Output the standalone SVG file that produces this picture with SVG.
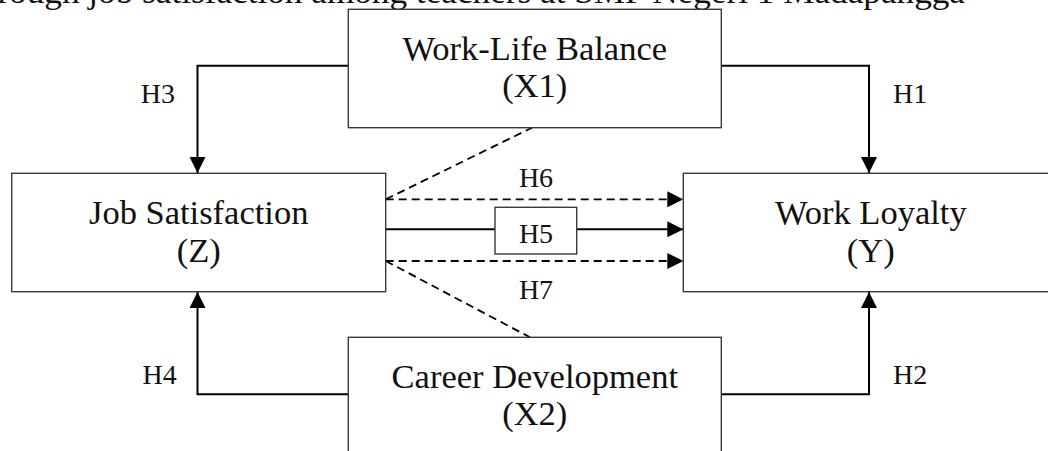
<svg xmlns="http://www.w3.org/2000/svg" width="1048" height="451" viewBox="0 0 1048 451">
<defs>
<style>
.box{fill:#fff;stroke:#3a3a3a;stroke-width:1.4}
.t{font-family:"Liberation Serif","DejaVu Serif",serif;font-size:34.5px;fill:#111;text-anchor:middle}
.h{font-family:"Liberation Serif","DejaVu Serif",serif;font-size:28px;fill:#111}
.c{fill:none;stroke:#000;stroke-width:2}
.d{fill:none;stroke:#000;stroke-width:1.8;stroke-dasharray:8,5}
</style>
<marker id="ah" viewBox="0 0 16 16" refX="16" refY="8" markerWidth="16" markerHeight="16" markerUnits="userSpaceOnUse" orient="auto">
<path d="M0,0 L16,8 L0,16 Z" fill="#000"/>
</marker>
</defs>
<rect width="1048" height="451" fill="#fff"/>
<text class="t" x="965" y="3" textLength="995" lengthAdjust="spacingAndGlyphs" style="text-anchor:end">through job satisfaction among teachers at SMP Negeri 1 Madapangga</text>
<g id="connectors">
<polyline class="c" points="348,65.7 197.5,65.7 197.5,173" marker-end="url(#ah)"/>
<polyline class="c" points="721,65.7 869,65.7 869,173" marker-end="url(#ah)"/>
<polyline class="c" points="348,394.3 197.5,394.3 197.5,292" marker-end="url(#ah)"/>
<polyline class="c" points="721,394.3 869,394.3 869,292" marker-end="url(#ah)"/>
<line class="d" x1="385.7" y1="199.3" x2="532" y2="127.7"/>
<line class="d" x1="385.7" y1="261" x2="530" y2="337.3"/>
<line class="d" x1="385.7" y1="199.3" x2="683.3" y2="199.3" marker-end="url(#ah)"/>
<line class="d" x1="385.7" y1="261" x2="683.3" y2="261" marker-end="url(#ah)"/>
<line class="c" x1="385.7" y1="229.3" x2="495" y2="229.3"/>
<line class="c" x1="576.7" y1="229.3" x2="683.3" y2="229.3" marker-end="url(#ah)"/>
<text class="h" x="140.7" y="102.7">H3</text>
<text class="h" x="893" y="102.7">H1</text>
<text class="h" x="176.7" y="384.3" style="text-anchor:end">H4</text>
<text class="h" x="893" y="384.3">H2</text>
<text class="h" x="536" y="187.3" style="text-anchor:middle">H6</text>
<text class="h" x="536" y="299.3" style="text-anchor:middle">H7</text>
</g>
<g id="h5">
<rect class="box" x="495" y="207.3" width="81.7" height="46.7"/>
<text class="h" x="536" y="243.3" style="text-anchor:middle">H5</text>
</g>
<g id="wlb">
<rect class="box" x="348.3" y="9.3" width="373" height="118.4"/>
<text class="t" x="534.8" y="60">Work-Life Balance</text>
<text class="t" x="534.8" y="97.3">(X1)</text>
</g>
<g id="js">
<rect class="box" x="11.7" y="173.3" width="374" height="118.4"/>
<text class="t" x="198.7" y="224.3">Job Satisfaction</text>
<text class="t" x="198.7" y="261.7">(Z)</text>
</g>
<g id="wl">
<rect class="box" x="683.3" y="173.3" width="375" height="118.4"/>
<text class="t" x="870.8" y="224.3">Work Loyalty</text>
<text class="t" x="870.8" y="261.7">(Y)</text>
</g>
<g id="cd">
<rect class="box" x="348.3" y="337.3" width="373" height="130"/>
<text class="t" x="534.8" y="387.7">Career Development</text>
<text class="t" x="534.8" y="425">(X2)</text>
</g>
</svg>
